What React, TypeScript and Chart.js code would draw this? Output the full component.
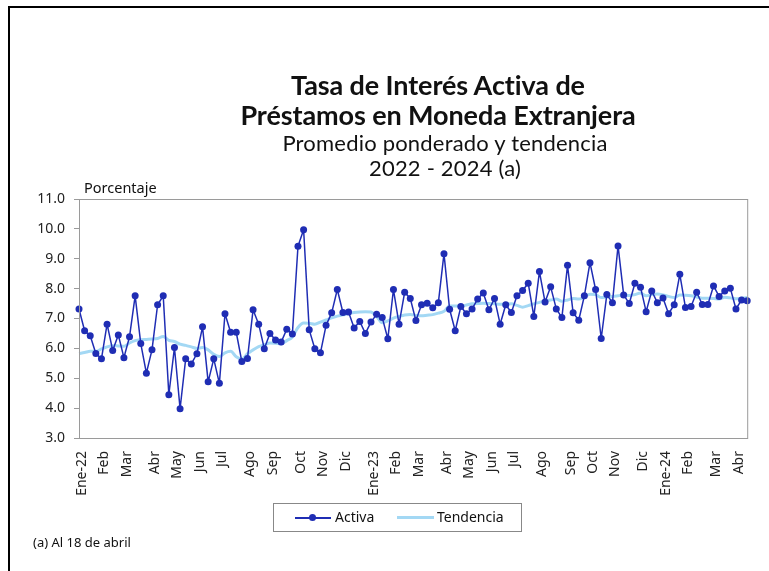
import React, { useEffect, useRef } from "react";
import { Chart, registerables } from "chart.js";

Chart.register(...registerables);

const monthLabelAt: [number, string][] = [
  [0, "Ene-22"], [4, "Feb"], [8, "Mar"], [13, "Abr"], [17, "May"], [21, "Jun"],
  [25, "Jul"], [30, "Ago"], [34, "Sep"], [39, "Oct"], [43, "Nov"], [47, "Dic"],
  [52, "Ene-23"], [56, "Feb"], [60, "Mar"], [65, "Abr"], [69, "May"], [73, "Jun"],
  [77, "Jul"], [82, "Ago"], [87, "Sep"], [91, "Oct"], [95, "Nov"], [100, "Dic"],
  [104, "Ene-24"], [108, "Feb"], [113, "Mar"], [117, "Abr"],
];

const activa: number[] = [
  7.32, 6.59, 6.42, 5.83, 5.65, 6.81, 5.93, 6.45, 5.69, 6.39,
  7.76, 6.16, 5.17, 5.95, 7.46, 7.76, 4.45, 6.03, 3.98, 5.65,
  5.48, 5.82, 6.72, 4.88, 5.65, 4.83, 7.16, 6.54, 6.54, 5.56,
  5.66, 7.29, 6.81, 5.99, 6.50, 6.28, 6.21, 6.64, 6.48, 9.42,
  9.97, 6.62, 5.99, 5.85, 6.77, 7.19, 7.97, 7.20, 7.22, 6.68,
  6.90, 6.50, 6.88, 7.14, 7.03, 6.32, 7.97, 6.81, 7.88, 7.67,
  6.93, 7.46, 7.51, 7.36, 7.53, 9.17, 7.31, 6.59, 7.40, 7.16,
  7.32, 7.65, 7.85, 7.29, 7.67, 6.81, 7.46, 7.20, 7.76, 7.94,
  8.18, 7.07, 8.57, 7.55, 8.06, 7.32, 7.03, 8.78, 7.19, 6.94,
  7.76, 8.87, 7.97, 6.33, 7.80, 7.53, 9.43, 7.79, 7.50, 8.18,
  8.05, 7.23, 7.92, 7.53, 7.69, 7.16, 7.46, 8.48, 7.37, 7.40,
  7.88, 7.47, 7.47, 8.09, 7.74, 7.92, 8.01, 7.32, 7.62, 7.59,
];

const tendencia: number[] = [
  5.83, 5.86, 5.90, 5.90, 5.98, 6.05, 6.09, 6.08, 6.07, 6.18,
  6.26, 6.29, 6.30, 6.31, 6.33, 6.40, 6.27, 6.23, 6.14, 6.10,
  6.05, 6.00, 6.03, 5.95, 5.80, 5.73, 5.85, 5.90, 5.72, 5.64,
  5.82, 5.95, 6.06, 6.12, 6.18, 6.17, 6.15, 6.26, 6.38, 6.70,
  6.85, 6.84, 6.81, 6.88, 6.95, 7.02, 7.08, 7.12, 7.17, 7.20,
  7.22, 7.23, 7.22, 7.07, 6.86, 6.92, 7.01, 7.07, 7.12, 7.13,
  7.10, 7.09, 7.11, 7.13, 7.18, 7.24, 7.42, 7.42, 7.42, 7.45,
  7.49, 7.50, 7.51, 7.50, 7.49, 7.48, 7.48, 7.49, 7.44, 7.38,
  7.43, 7.49, 7.54, 7.59, 7.62, 7.65, 7.58, 7.62, 7.67, 7.65,
  7.72, 7.81, 7.80, 7.70, 7.72, 7.74, 7.76, 7.79, 7.77, 7.80,
  7.85, 7.76, 7.80, 7.82, 7.79, 7.74, 7.70, 7.79, 7.78, 7.76,
  7.72, 7.68, 7.68, 7.67, 7.65, 7.71, 7.69, 7.66, 7.68, 7.70,
];

const labels: string[] = activa.map((_, i) => {
  const m = monthLabelAt.find((e) => e[0] === i);
  return m ? m[1] : "";
});

const ACTIVA_COLOR = "#1F2DB4";
const TREND_COLOR = "#A3D8F4";
const AXIS_COLOR = "#9a9a9a";

const frame = {
  id: "frame",
  afterDraw(chart: any) {
    const { ctx, chartArea } = chart;
    ctx.save();
    ctx.strokeStyle = AXIS_COLOR;
    ctx.lineWidth = 1;
    ctx.strokeRect(chartArea.left + 0.5, chartArea.top + 0.5, chartArea.right - chartArea.left, chartArea.bottom - chartArea.top);
    ctx.restore();
  },
};

export default function App() {
  const ref = useRef<HTMLCanvasElement | null>(null);
  useEffect(() => {
    if (!ref.current) return;
    const chart = new Chart(ref.current, {
      type: "line",
      data: {
        labels,
        datasets: [
          {
            label: "Activa",
            data: activa,
            borderColor: ACTIVA_COLOR,
            backgroundColor: ACTIVA_COLOR,
            borderWidth: 1.5,
            borderJoinStyle: "round",
            pointRadius: 3.5,
            pointBorderWidth: 0,
            pointBackgroundColor: ACTIVA_COLOR,
            tension: 0,
            order: 1,
          },
          {
            label: "Tendencia",
            data: tendencia,
            borderColor: TREND_COLOR,
            backgroundColor: TREND_COLOR,
            borderWidth: 3,
            borderJoinStyle: "round",
            pointRadius: 0,
            cubicInterpolationMode: "monotone",
            order: 2,
          },
        ],
      },
      options: {
        responsive: false,
        animation: false,
        devicePixelRatio: 1,
        layout: { autoPadding: false, padding: { top: 199, left: 0, right: 21, bottom: 0 } },
        plugins: { legend: { display: false }, tooltip: { enabled: false } },
        scales: {
          x: {
            offset: false,
            grid: { display: false },
            border: { display: true, color: AXIS_COLOR },
            ticks: {
              autoSkip: false,
              maxRotation: 90,
              minRotation: 90,
              padding: 5,
              labelOffset: 3,
              color: "#222",
              font: { family: "'Noto Sans', sans-serif", size: 14 },
            },
            afterFit: (axis: any) => { axis.height = 133; },
          },
          y: {
            min: 3,
            max: 11,
            grid: { display: true, drawOnChartArea: false, drawTicks: true, tickLength: 5, color: AXIS_COLOR },
            border: { display: true, color: AXIS_COLOR },
            ticks: {
              stepSize: 1,
              padding: 9,
              color: "#222",
              font: { family: "'Noto Sans', sans-serif", size: 14 },
              callback: (v: any) => Number(v).toFixed(1),
            },
            afterFit: (axis: any) => { axis.width = 79; },
          },
        },
      },
      plugins: [frame],
    });
    return () => chart.destroy();
  }, []);

  const center: React.CSSProperties = { position: "absolute", left: 0, width: 876, textAlign: "center", whiteSpace: "nowrap", color: "#111" };
  const sub: React.CSSProperties = { ...center, left: 7 };

  return (
    <div style={{ position: "fixed", left: 0, top: 0, width: 769, height: 571, background: "#fff", overflow: "hidden", fontFamily: "'Noto Sans', sans-serif" }}>
      <div style={{ position: "absolute", left: 8, top: 6, width: 780, height: 600, borderTop: "2px solid #000", borderLeft: "2px solid #000", boxSizing: "border-box" }} />
      <canvas ref={ref} width={769} height={571} style={{ position: "absolute", left: 0, top: 0 }} />
      <div style={{ ...center, top: 70, fontFamily: "Lato, sans-serif", fontWeight: 700, fontSize: 27, letterSpacing: -0.1, lineHeight: "30px" }}>
        Tasa de Interés Activa de
      </div>
      <div style={{ ...center, top: 100, fontFamily: "Lato, sans-serif", fontWeight: 700, fontSize: 27, letterSpacing: -0.1, lineHeight: "30px" }}>
        Préstamos en Moneda Extranjera
      </div>
      <div style={{ ...sub, top: 131, fontFamily: "Lato, sans-serif", fontSize: 22, letterSpacing: 0.2, lineHeight: "24px" }}>
        Promedio ponderado y tendencia
      </div>
      <div style={{ ...sub, top: 156, fontFamily: "Lato, sans-serif", fontSize: 22, letterSpacing: 0.2, lineHeight: "24px" }}>
        2022 - 2024 (a)
      </div>
      <div style={{ position: "absolute", left: 84, top: 178, fontSize: 14.5, lineHeight: "18px", color: "#111" }}>Porcentaje</div>
      <div style={{ position: "absolute", left: 273, top: 503, width: 249, height: 29, border: "1px solid #888", boxSizing: "border-box", fontSize: 14, color: "#111" }}>
        <div style={{ position: "absolute", left: 21, top: 13, width: 36, height: 1.5, background: ACTIVA_COLOR }} />
        <div style={{ position: "absolute", left: 35, top: 10, width: 7, height: 7, borderRadius: "50%", background: ACTIVA_COLOR }} />
        <div style={{ position: "absolute", left: 61, top: 4, lineHeight: "18px" }}>Activa</div>
        <div style={{ position: "absolute", left: 123, top: 12, width: 37, height: 3, background: TREND_COLOR }} />
        <div style={{ position: "absolute", left: 163, top: 4, lineHeight: "18px" }}>Tendencia</div>
      </div>
      <div style={{ position: "absolute", left: 33, top: 534, fontSize: 13, lineHeight: "17px", color: "#111" }}>(a) Al 18 de abril</div>
    </div>
  );
}
